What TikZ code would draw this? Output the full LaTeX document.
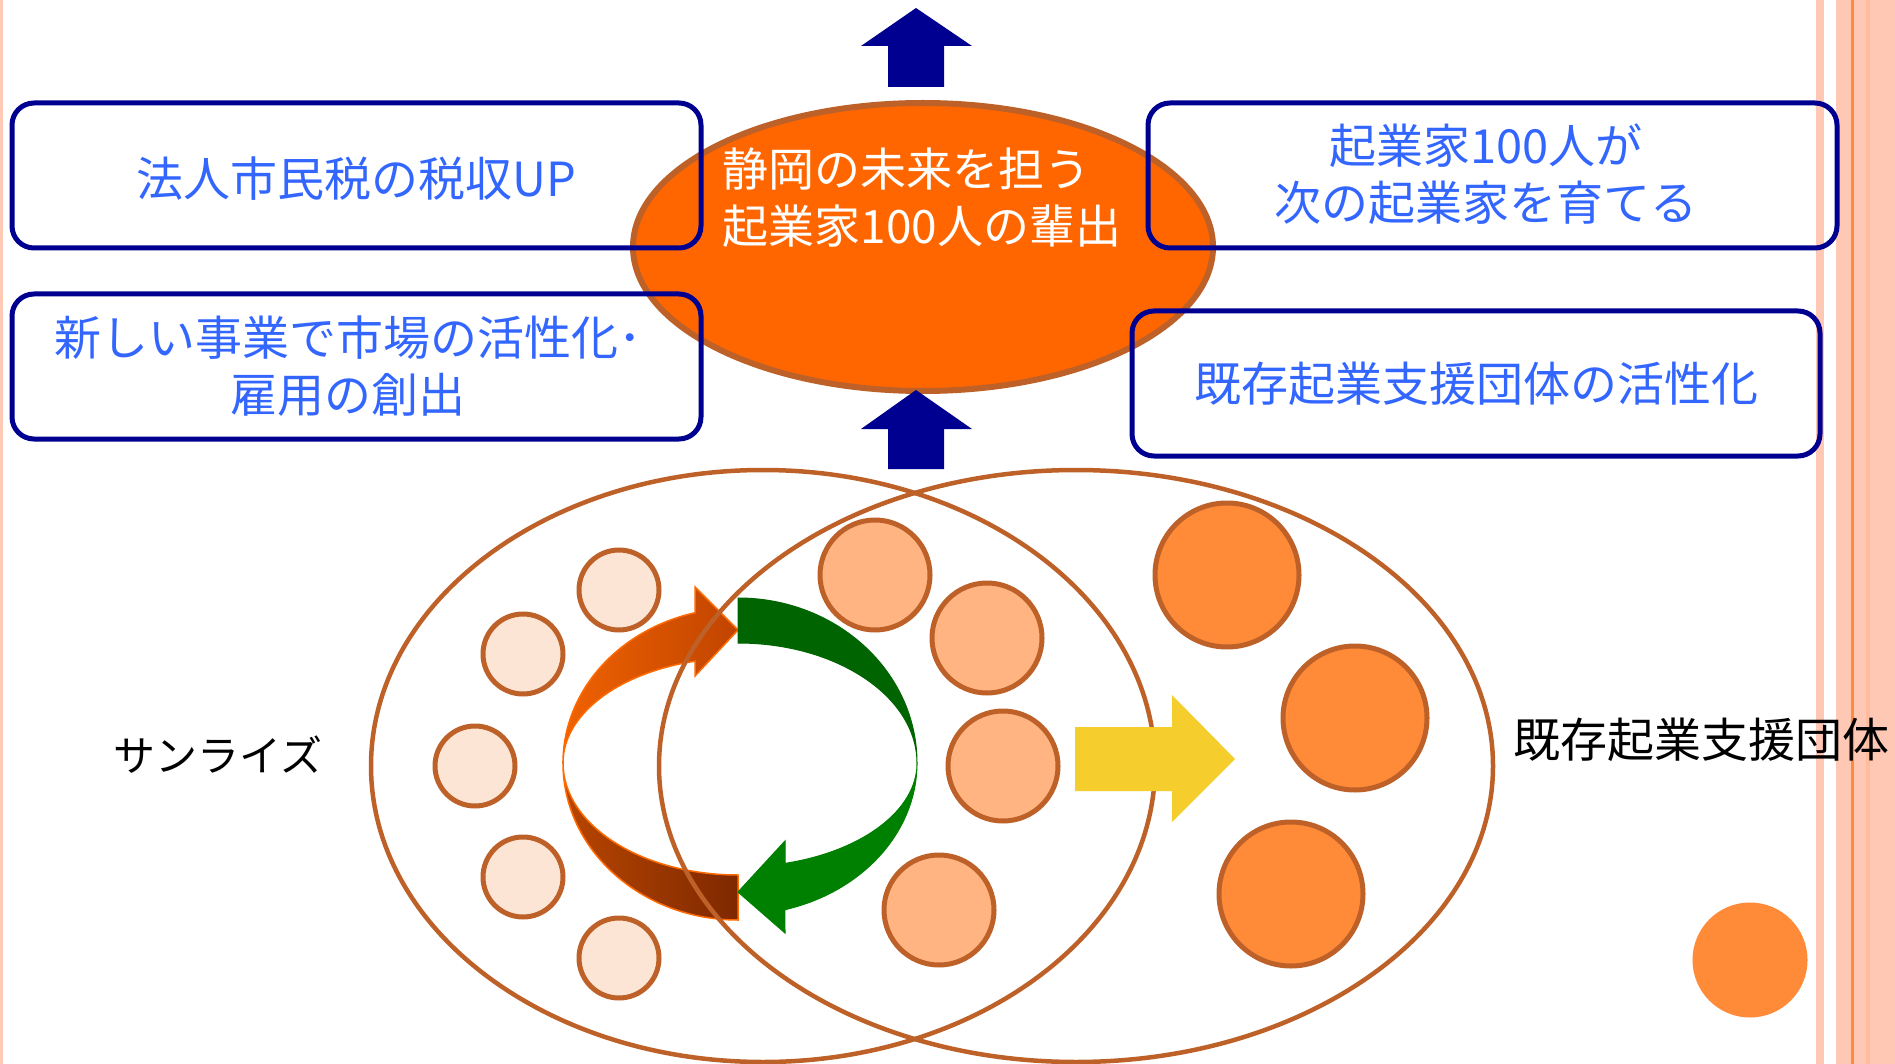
\documentclass[tikz,border=0pt]{standalone}
\usepackage{fontspec}
\setmainfont{Noto Sans CJK JP}
\usetikzlibrary{shapes.geometric}
\definecolor{navy}{HTML}{000090}
\definecolor{txtblue}{HTML}{3366FF}
\definecolor{brn}{HTML}{BE6128}
\definecolor{salmon}{HTML}{FFC8B4}
\definecolor{salmond}{HTML}{FFBB9E}
\definecolor{stripeor}{HTML}{FF8A3A}
\definecolor{ctrorange}{HTML}{FF6600}
\definecolor{pale}{HTML}{FDE5D6}
\definecolor{midor}{HTML}{FFB482}
\definecolor{bigor}{HTML}{FF8A38}
\definecolor{yel}{HTML}{F5CE2E}
\definecolor{orA}{HTML}{F06200}
\definecolor{orB}{HTML}{C04400}
\definecolor{orC}{HTML}{B84600}
\definecolor{orD}{HTML}{7E2800}
\definecolor{orline}{HTML}{FF6A00}
\definecolor{grA}{HTML}{006400}
\definecolor{grB}{HTML}{008000}
\begin{document}
\begin{tikzpicture}[x=1pt,y=-1pt,
  box/.style={draw=navy, line width=5pt, rounded corners=22pt, minimum height=145pt, inner sep=0pt},
  boxtext/.style={text=txtblue, font=\fontsize{47}{57}\selectfont, align=center},
  smallc/.style={circle, draw=brn, line width=5pt, fill=pale, minimum size=80pt, inner sep=0pt},
  midc/.style={circle, draw=brn, line width=5pt, fill=midor, minimum size=110pt, inner sep=0pt},
  bigc/.style={circle, draw=brn, line width=5pt, fill=bigor, minimum size=144pt, inner sep=0pt},
  bigell/.style={ellipse, draw=brn, line width=4.5pt, inner sep=0pt},
  blockarrow/.style={fill=navy, draw=none}
]
\useasboundingbox (0,0) rectangle (1895,1064);
\fill[white] (0,0) rectangle (1895,1064);
% page stripes
\fill[salmon] (0,0) rectangle (2.5,1064);
\fill[salmon] (1816,0) rectangle (1824,1064);
\fill[salmon] (1836,0) rectangle (1895,1064);
\fill[salmond] (1866,0) rectangle (1870,1064);
\fill[stripeor] (1851,0) rectangle (1853.5,1064);

% top section
\node[ellipse, draw=brn, line width=6pt, fill=ctrorange, minimum width=580pt, minimum height=288pt, inner sep=0pt] (goal) at (923,247) {};
\node[anchor=west, text=white, align=left, font=\fontsize{46}{57}\selectfont] (goaltext) at (719,198) {静岡の未来を担う\\起業家100人の輩出};

\node[box, minimum width=689pt] (b1) at (356.5,175.5) {};
\node[boxtext] (t1) at (356.5,179) {法人市民税の税収UP};
\node[box, minimum width=689pt] (b2) at (356.5,366.5) {};
\node[boxtext] (t2) at (348,366.5) {新しい事業で市場の活性化･\\雇用の創出};
\node[box, minimum width=689pt] (b3) at (1492.5,175.5) {};
\node[boxtext] (t3) at (1486,174) {起業家100人が\\次の起業家を育てる};
\node[box, minimum width=688pt] (b4) at (1476,383.5) {};
\node[boxtext] (t4) at (1476,384) {既存起業支援団体の活性化};

% navy block arrows
\fill[blockarrow] (916,8) -- (972,46) -- (944,46) -- (944,87) -- (888,87) -- (888,46) -- (861,46) -- cycle;
\fill[blockarrow] (916,390) -- (972,429) -- (944,429) -- (944,469) -- (888,469) -- (888,429) -- (861,429) -- cycle;

% cycle arrows
\path[draw=orline, line width=1.5pt, left color=orC, right color=orD]
  (563,763) arc[start angle=180,end angle=90,x radius=175,y radius=157]
  -- (738,875) arc[start angle=90,end angle=180,x radius=175,y radius=112] -- cycle;
\path[draw=orline, line width=1.5pt, left color=orA, right color=orB]
  (563,763) arc[start angle=180,end angle=255.8,x radius=175,y radius=155]
  -- (695,587) -- (738,630) -- (695,676) -- (695,661.2)
  arc[start angle=255.8,end angle=180,x radius=175,y radius=105] -- cycle;
\path[draw=grA, line width=1pt, fill=grA]
  (738,598) arc[start angle=270,end angle=360,x radius=179,y radius=165]
  arc[start angle=360,end angle=270,x radius=179,y radius=120] -- cycle;
\path[draw=grB, line width=1pt, fill=grB]
  (917,763) arc[start angle=0,end angle=74.8,x radius=179,y radius=152]
  -- (785,933) -- (738,892) -- (785,841) -- (785,863.4)
  arc[start angle=74.8,end angle=0,x radius=179,y radius=104] -- cycle;

% big ellipses
\node[bigell, minimum width=784pt, minimum height=592pt] (sunrise) at (763,766) {};
\node[bigell, minimum width=834pt, minimum height=592pt] (support) at (1076,766) {};

% circles
\node[smallc] (s1) at (619,590) {};
\node[smallc] (s2) at (523,654) {};
\node[smallc] (s3) at (475,766) {};
\node[smallc] (s4) at (523,877) {};
\node[smallc] (s5) at (619,958) {};
\node[midc] (m1) at (875,575) {};
\node[midc] (m2) at (987,638) {};
\node[midc] (m3) at (1003,766) {};
\node[midc] (m4) at (939,910) {};
\node[bigc] (g1) at (1227,575) {};
\node[bigc] (g2) at (1355,718) {};
\node[bigc] (g3) at (1291,894) {};
\node[circle, fill=bigor, minimum size=115pt, inner sep=0pt] (lone) at (1750,960) {};

% yellow arrow
\fill[yel] (1075,727) -- (1172,727) -- (1172,695) -- (1235,759) -- (1172,822) -- (1172,791) -- (1075,791) -- cycle;

% labels
\node[font=\fontsize{42}{50}\selectfont] (lsun) at (218,755) {サンライズ};
\node[anchor=west, font=\fontsize{47}{56}\selectfont, inner sep=0pt] (lsup) at (1513,740) {既存起業支援団体};
\end{tikzpicture}
\end{document}
